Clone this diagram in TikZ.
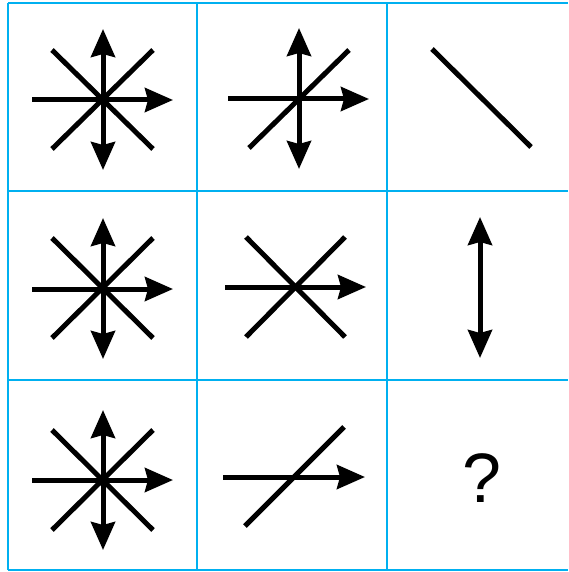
\documentclass[tikz,border=0pt]{standalone}
\usepackage{fontspec}
\setmainfont{Liberation Sans}
\usetikzlibrary{arrows.meta}
\definecolor{gridblue}{RGB}{0,176,240}
\tikzset{
  gridline/.style={draw=gridblue, line width=2pt},
  stroke/.style={draw=black, line width=5pt},
  tip/.style={Stealth[length=28pt, width=24pt, inset=3pt]},
  arr/.style={stroke, -{Stealth[length=28pt, width=24pt, inset=3pt]}},
  darr/.style={stroke, {Stealth[length=28pt, width=24pt, inset=3pt]}-{Stealth[length=28pt, width=24pt, inset=3pt]}},
  qmark/.style={font=\fontsize{70}{84}\selectfont, inner sep=0pt}
}
\begin{document}
\begin{tikzpicture}[x=1pt, y=-1pt]
\useasboundingbox (0,0) rectangle (568,572);
% grid
\foreach \yy in {3,191,380,570} \draw[gridline] (8,\yy) -- (568,\yy);
\foreach \xx in {8,197,387} \draw[gridline] (\xx,3) -- (\xx,570);

% row 1, col 1
\draw[stroke] (52,50) -- (153,149);
\draw[stroke] (52,149) -- (153,50);
\draw[arr] (32,100) -- (173,100);
\draw[darr] (103,170) -- (103,29);

% row 1, col 2
\draw[stroke] (249,148) -- (349,50);
\draw[arr] (228,99) -- (369,99);
\draw[darr] (299,169) -- (299,28);

% row 1, col 3
\draw[stroke] (432,49) -- (531,147);

% row 2, col 1
\draw[stroke] (52,238) -- (153,338);
\draw[stroke] (52,338) -- (153,238);
\draw[arr] (32,289) -- (173,289);
\draw[darr] (103,359) -- (103,218);

% row 2, col 2
\draw[stroke] (246,237) -- (345,337);
\draw[stroke] (246,337) -- (345,237);
\draw[arr] (225,287) -- (366,287);

% row 2, col 3
\draw[darr] (480,358) -- (480,217);

% row 3, col 1
\draw[stroke] (52,430) -- (153,530);
\draw[stroke] (52,530) -- (153,430);
\draw[arr] (32,480) -- (173,480);
\draw[darr] (103,550) -- (103,410);

% row 3, col 2
\draw[stroke] (245,526) -- (344,427);
\draw[arr] (223,477) -- (365,477);

% row 3, col 3
\node[qmark] (q) at (482,478) {?};
\end{tikzpicture}
\end{document}
